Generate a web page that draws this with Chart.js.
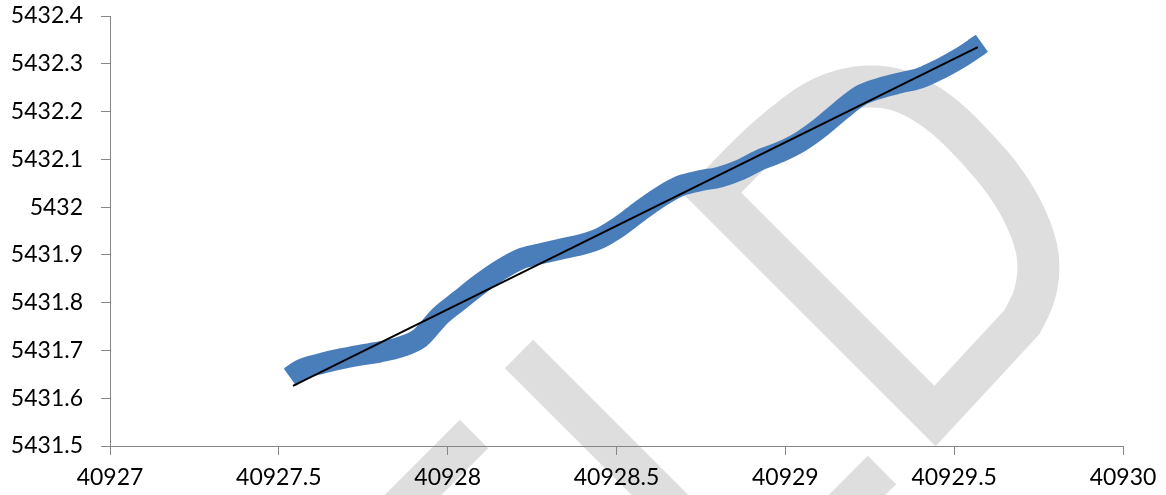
<!DOCTYPE html>
<html><head><meta charset="utf-8">
<script src="https://cdn.jsdelivr.net/npm/chart.js@4"></script>
<style>html,body{margin:0;padding:0;background:#fff}#wrap{width:1166px;height:495px;position:relative}</style>
</head><body><div id="wrap"><canvas id="c" width="1166" height="495"></canvas></div>
<script>
// ---- data ----
const seriesX = [40927.533, 40927.563, 40927.622, 40927.681, 40927.740, 40927.800, 40927.859, 40927.918, 40927.977, 40928.037, 40928.096, 40928.155, 40928.214, 40928.273, 40928.333, 40928.392, 40928.451, 40928.510, 40928.570, 40928.629, 40928.688, 40928.747, 40928.806, 40928.866, 40928.925, 40928.984, 40929.043, 40929.103, 40929.162, 40929.221, 40929.280, 40929.340, 40929.399, 40929.458, 40929.517, 40929.562, 40929.582];
const seriesY = [5431.644, 5431.659, 5431.672, 5431.682, 5431.690, 5431.697, 5431.707, 5431.726, 5431.772, 5431.806, 5431.839, 5431.868, 5431.891, 5431.902, 5431.912, 5431.921, 5431.935, 5431.960, 5431.992, 5432.021, 5432.044, 5432.055, 5432.063, 5432.078, 5432.099, 5432.115, 5432.136, 5432.166, 5432.201, 5432.233, 5432.249, 5432.260, 5432.270, 5432.289, 5432.312, 5432.333, 5432.343];
const trendX = [40927.542, 40929.570];
const trendY = [5431.626, 5432.335];
const xTickLabels = ['40927', '40927.5', '40928', '40928.5', '40929', '40929.5', '40930'];
const yTickLabels = ['5431.5', '5431.6', '5431.7', '5431.8', '5431.9', '5432', '5432.1', '5432.2', '5432.3', '5432.4'];
const xMin = 40927, xMax = 40930, xStep = 0.5;
const yMin = 5431.5, yMax = 5432.4, yStep = 0.1;

const toPts = (xs, ys) => xs.map((x, i) => ({x, y: ys[i]}));

// background watermark (decoration only)
const watermark = {
  id: 'wm',
  beforeDraw(chart) {
    const ctx = chart.ctx;
    ctx.save();
    ctx.fillStyle = '#ffffff';
    ctx.fillRect(0, 0, chart.width, chart.height);
    ctx.strokeStyle = '#dedede';
    ctx.lineWidth = 42;
    ctx.lineCap = 'butt';
    ctx.lineJoin = 'miter';
    const P = [[712,193],[745,158],[780,126],[815,100],[850,87],[885,86],[913,95],[945,116],[977,148],[1006,182],[1028,220],[1040,258],[1036,295],[1022,322]];
    ctx.beginPath();
    ctx.moveTo(935, 416);
    ctx.lineTo(P[0][0], P[0][1]);
    for (let i = 1; i < P.length - 1; i++) {
      const mx = (P[i][0] + P[i+1][0]) / 2, my = (P[i][1] + P[i+1][1]) / 2;
      ctx.quadraticCurveTo(P[i][0], P[i][1], mx, my);
    }
    ctx.lineTo(P[P.length-1][0], P[P.length-1][1]);
    ctx.closePath();
    ctx.stroke();
    ctx.lineWidth = 40;
    const bands = [[519,354,690,525],[474,434,390,518],[882,470,830,522]];
    bands.forEach(b => { ctx.beginPath(); ctx.moveTo(b[0], b[1]); ctx.lineTo(b[2], b[3]); ctx.stroke(); });
    ctx.restore();
  }
};

const axisColor = '#868686';
const font = {family: 'Lato', size: 23};

new Chart(document.getElementById('c'), {
  type: 'scatter',
  data: {
    datasets: [
      {data: toPts(trendX, trendY), showLine: true, borderColor: '#000000', borderWidth: 2, pointRadius: 0, tension: 0},
      {data: toPts(seriesX, seriesY), showLine: true, borderColor: '#4a7ebb', borderWidth: 21, pointRadius: 0, cubicInterpolationMode: 'monotone', borderCapStyle: 'butt', borderJoinStyle: 'round'}
    ]
  },
  options: {
    responsive: false,
    animation: false,
    events: [],
    layout: {padding: {top: 16, right: 43, left: 0, bottom: 0}},
    plugins: {legend: {display: false}, tooltip: {enabled: false}},
    scales: {
      x: {
        type: 'linear', position: 'bottom', min: xMin, max: xMax,
        afterFit: s => { s.height = 49; s.paddingLeft = 0; s.paddingRight = 0; },
        ticks: {stepSize: xStep, color: '#000', font, padding: 9, maxRotation: 0, autoSkip: false,
          callback: v => xTickLabels[Math.round((v - xMin) / xStep)]},
        grid: {drawOnChartArea: false, drawTicks: true, tickLength: 9, color: axisColor},
        border: {display: true, color: axisColor, width: 1}
      },
      y: {
        type: 'linear', min: yMin, max: yMax,
        afterFit: s => { s.width = 110; s.paddingTop = 0; s.paddingBottom = 0; },
        ticks: {stepSize: yStep, color: '#000', font, padding: 18, autoSkip: false,
          callback: v => yTickLabels[Math.round((v - yMin) / yStep)]},
        grid: {drawOnChartArea: false, drawTicks: true, tickLength: 9, color: axisColor},
        border: {display: true, color: axisColor, width: 1}
      }
    }
  },
  plugins: [watermark]
});
</script>
</body></html>
